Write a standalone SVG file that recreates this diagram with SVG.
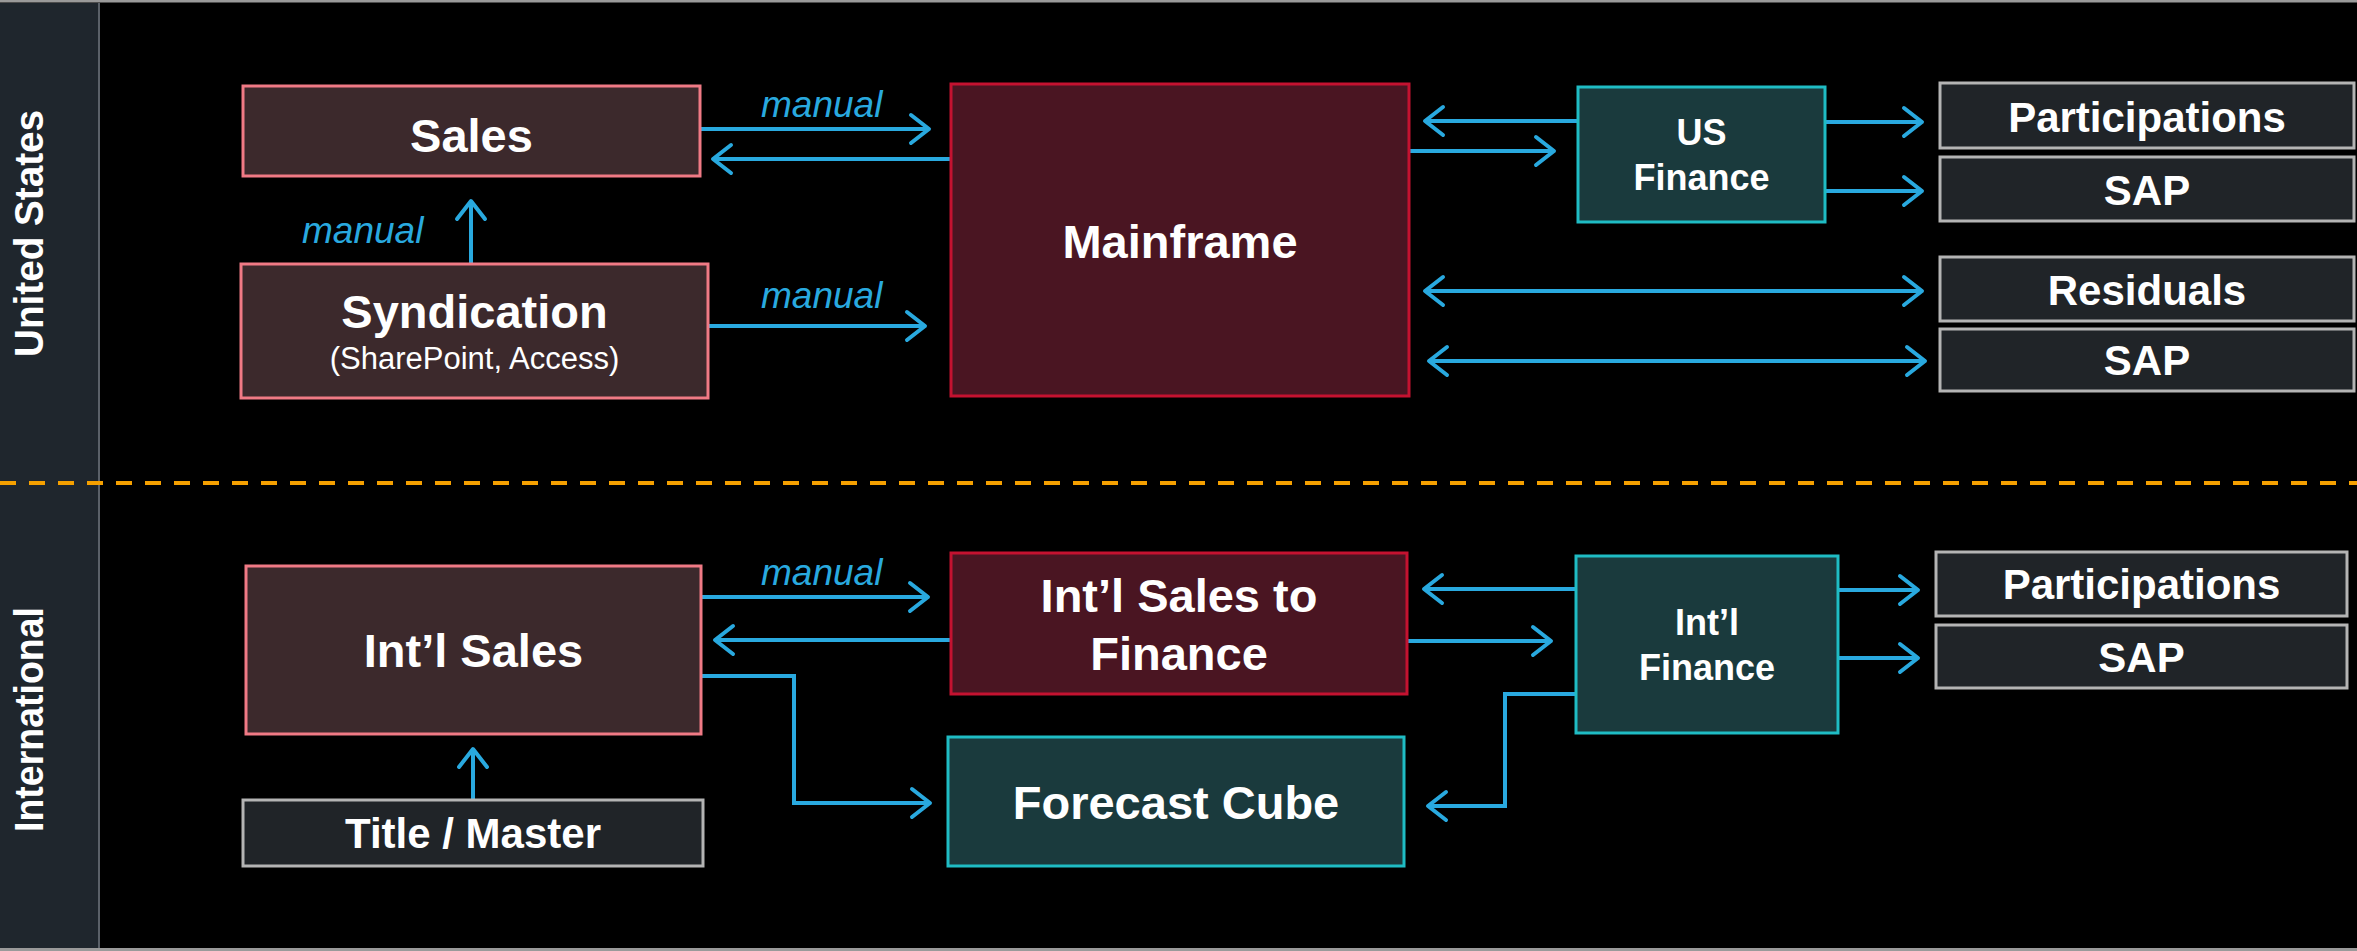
<svg xmlns="http://www.w3.org/2000/svg" width="2357" height="951" viewBox="0 0 2357 951">
<defs>
<style>
.bg{fill:#000}
.side{fill:#1f262d}
.sales{fill:#3c292c;stroke:#f07a85;stroke-width:3}
.main{fill:#4a1522;stroke:#c41230;stroke-width:3}
.teal{fill:#1a3a3d;stroke:#1fbcc4;stroke-width:3}
.gray{fill:#202428;stroke:#b4b4b4;stroke-width:3}
.t{font-family:"Liberation Sans",Arial,sans-serif;font-weight:bold;fill:#fff;text-anchor:middle}
.t47{font-size:47px}
.t42{font-size:42px}
.t36{font-size:36px}
.sub{font-family:"Liberation Sans",Arial,sans-serif;font-size:31px;fill:#fff;text-anchor:middle}
.man{font-family:"Liberation Sans",Arial,sans-serif;font-style:italic;font-size:37px;fill:#29a9df}
.lane{font-family:"Liberation Sans",Arial,sans-serif;font-weight:bold;font-size:41px;fill:#fff;text-anchor:middle}
.c{fill:none;stroke:#29a9df;stroke-width:4}
</style>
<marker id="ah" viewBox="-22 -17 26 34" refX="0" refY="0" markerWidth="26" markerHeight="34" markerUnits="userSpaceOnUse" orient="auto-start-reverse">
<path d="M-18,-14 L0,0 L-18,14" fill="none" stroke="#29a9df" stroke-width="4" stroke-linecap="round" stroke-linejoin="round"/>
</marker>
</defs>
<rect class="bg" x="0" y="0" width="2357" height="951"/>
<g id="lanes">
<rect class="side" x="0" y="3" width="98" height="945"/>
<line x1="99" y1="3" x2="99" y2="948" stroke="#5a6068" stroke-width="2"/>
<line x1="0" y1="1" x2="2357" y2="1" stroke="#9a9a9a" stroke-width="3"/>
<line x1="0" y1="949.5" x2="2357" y2="949.5" stroke="#9a9a9a" stroke-width="3"/>
<text class="lane" transform="translate(43,233.5) rotate(-90)" textLength="247" lengthAdjust="spacingAndGlyphs">United States</text>
<text class="lane" transform="translate(43,719.5) rotate(-90)" textLength="225" lengthAdjust="spacingAndGlyphs">International</text>
<line x1="0" y1="483" x2="2357" y2="483" stroke="#f5a000" stroke-width="4" stroke-dasharray="16 13"/>
</g>
<g id="connectors">
<line class="c" x1="700" y1="129" x2="929" y2="129" marker-end="url(#ah)"/>
<line class="c" x1="951" y1="159" x2="713" y2="159" marker-end="url(#ah)"/>
<line class="c" x1="471" y1="264" x2="471" y2="201" marker-end="url(#ah)"/>
<line class="c" x1="708" y1="326" x2="925" y2="326" marker-end="url(#ah)"/>
<line class="c" x1="1578" y1="121" x2="1425" y2="121" marker-end="url(#ah)"/>
<line class="c" x1="1409" y1="151" x2="1554" y2="151" marker-end="url(#ah)"/>
<line class="c" x1="1825" y1="122" x2="1922" y2="122" marker-end="url(#ah)"/>
<line class="c" x1="1825" y1="191" x2="1922" y2="191" marker-end="url(#ah)"/>
<line class="c" x1="1425" y1="291" x2="1922" y2="291" marker-start="url(#ah)" marker-end="url(#ah)"/>
<line class="c" x1="1429" y1="361" x2="1925" y2="361" marker-start="url(#ah)" marker-end="url(#ah)"/>
<line class="c" x1="701" y1="597" x2="928" y2="597" marker-end="url(#ah)"/>
<line class="c" x1="951" y1="640" x2="715" y2="640" marker-end="url(#ah)"/>
<line class="c" x1="473" y1="800" x2="473" y2="749" marker-end="url(#ah)"/>
<polyline class="c" points="701,676 794,676 794,803 930,803" marker-end="url(#ah)"/>
<line class="c" x1="1576" y1="589" x2="1424" y2="589" marker-end="url(#ah)"/>
<line class="c" x1="1407" y1="641" x2="1551" y2="641" marker-end="url(#ah)"/>
<line class="c" x1="1838" y1="590" x2="1918" y2="590" marker-end="url(#ah)"/>
<line class="c" x1="1838" y1="658" x2="1918" y2="658" marker-end="url(#ah)"/>
<polyline class="c" points="1576,694 1505,694 1505,806 1428,806" marker-end="url(#ah)"/>
<text class="man" x="761" y="117">manual</text>
<text class="man" x="761" y="308">manual</text>
<text class="man" x="302" y="243">manual</text>
<text class="man" x="761" y="585">manual</text>
</g>
<g id="sales"><rect class="sales" x="243" y="86" width="457" height="90"/><text class="t t47" x="471.5" y="152">Sales</text></g>
<g id="syndication"><rect class="sales" x="241" y="264" width="467" height="134"/><text class="t t47" x="474.5" y="328">Syndication</text><text class="sub" x="474.5" y="369">(SharePoint, Access)</text></g>
<g id="mainframe"><rect class="main" x="951" y="84" width="458" height="312"/><text class="t t47" x="1180" y="258">Mainframe</text></g>
<g id="us-finance"><rect class="teal" x="1578" y="87" width="247" height="135"/><text class="t t36" x="1701.5" y="145">US</text><text class="t t36" x="1701.5" y="190">Finance</text></g>
<g id="us-participations"><rect class="gray" x="1940" y="83" width="414" height="65"/><text class="t t42" x="2147" y="132">Participations</text></g>
<g id="us-sap1"><rect class="gray" x="1940" y="157" width="414" height="64"/><text class="t t42" x="2147" y="205">SAP</text></g>
<g id="residuals"><rect class="gray" x="1940" y="257" width="414" height="64"/><text class="t t42" x="2147" y="305">Residuals</text></g>
<g id="us-sap2"><rect class="gray" x="1940" y="329" width="414" height="62"/><text class="t t42" x="2147" y="375">SAP</text></g>
<g id="intl-sales"><rect class="sales" x="246" y="566" width="455" height="168"/><text class="t t47" x="473.5" y="667">Int’l Sales</text></g>
<g id="title-master"><rect class="gray" x="243" y="800" width="460" height="66"/><text class="t t42" x="473" y="848">Title / Master</text></g>
<g id="intl-sales-to-finance"><rect class="main" x="951" y="553" width="456" height="141"/><text class="t t47" x="1179" y="612">Int’l Sales to</text><text class="t t47" x="1179" y="670">Finance</text></g>
<g id="forecast-cube"><rect class="teal" x="948" y="737" width="456" height="129"/><text class="t t47" x="1176" y="819">Forecast Cube</text></g>
<g id="intl-finance"><rect class="teal" x="1576" y="556" width="262" height="177"/><text class="t t36" x="1707" y="635">Int’l</text><text class="t t36" x="1707" y="680">Finance</text></g>
<g id="intl-participations"><rect class="gray" x="1936" y="552" width="411" height="64"/><text class="t t42" x="2141.5" y="599">Participations</text></g>
<g id="intl-sap"><rect class="gray" x="1936" y="625" width="411" height="63"/><text class="t t42" x="2141.5" y="672">SAP</text></g>
</svg>
